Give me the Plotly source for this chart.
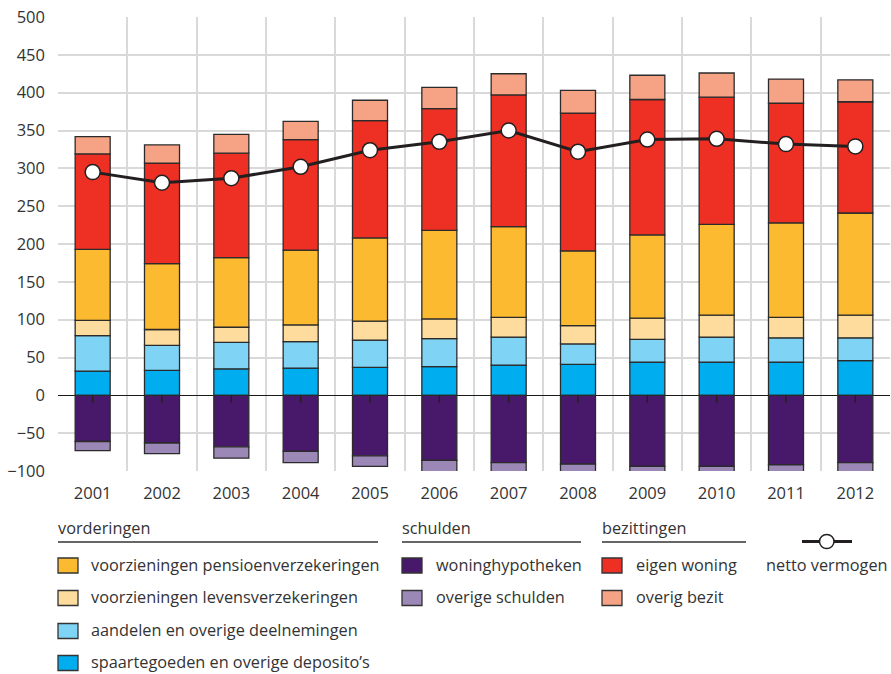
import plotly.graph_objects as go

years = [2001, 2002, 2003, 2004, 2005, 2006, 2007, 2008, 2009, 2010, 2011, 2012]

spaartegoeden = [32, 33, 35, 36, 37, 38, 40, 41, 44, 44, 44, 46]
aandelen = [47, 33, 35, 35, 36, 37, 37, 27, 30, 33, 32, 30]
levensverz = [20, 21, 20, 22, 25, 26, 26, 24, 28, 29, 27, 30]
pensioenverz = [94, 87, 92, 99, 110, 117, 120, 99, 110, 120, 125, 135]
eigen_woning = [126, 133, 138, 146, 155, 161, 174, 182, 179, 168, 158, 147]
overig_bezit = [23, 24, 25, 24, 27, 28, 28, 30, 32, 32, 32, 29]
woninghypotheken = [-61, -63, -68, -74, -80, -86, -89, -91, -94, -94, -92, -89]
overige_schulden = [-12, -14, -15, -15, -14, -15, -12, -10, -7, -7, -9, -12]
netto_vermogen = [295, 281, 287, 302, 324, 335, 350, 322, 338, 339, 332, 329]

C = {
    "spaar": "#00AEEF",
    "aandelen": "#7FD3F5",
    "levens": "#FDDC9E",
    "pensioen": "#FBBA2F",
    "eigen": "#EE3024",
    "overig": "#F5A384",
    "hyp": "#48186A",
    "schuld": "#9C88B6",
}

series = [
    ("spaartegoeden en overige deposito’s", spaartegoeden, C["spaar"]),
    ("aandelen en overige deelnemingen", aandelen, C["aandelen"]),
    ("voorzieningen levensverzekeringen", levensverz, C["levens"]),
    ("voorzieningen pensioenverzekeringen", pensioenverz, C["pensioen"]),
    ("eigen woning", eigen_woning, C["eigen"]),
    ("overig bezit", overig_bezit, C["overig"]),
    ("woninghypotheken", woninghypotheken, C["hyp"]),
    ("overige schulden", overige_schulden, C["schuld"]),
]

FONT = "Open Sans"
TXT = "#333333"
OUTLINE = "#2b2b2b"
LSIZE = 16.3
TSIZE = 16.5

fig = go.Figure()
for name, vals, col in series:
    fig.add_trace(go.Bar(
        x=years, y=vals, name=name, width=0.505,
        marker=dict(color=col, line=dict(color=OUTLINE, width=1.3)),
        showlegend=False,
    ))

fig.add_trace(go.Scatter(
    x=years, y=netto_vermogen, mode="lines+markers", name="netto vermogen",
    line=dict(color="#231f20", width=3),
    marker=dict(size=15, color="white", line=dict(color="#231f20", width=1.5)),
    showlegend=False,
))

shapes = []
# small ticks on the zero line at each category
for yr in years:
    shapes.append(dict(type="line", xref="x", yref="y", x0=yr, x1=yr, y0=0, y1=-10,
                       line=dict(color="#231f20", width=1.5), layer="above"))

annotations = []

W, H = 891, 674
ML, MR, MT, MB = 58, 1, 17, 203
PW, PH = W - ML - MR, H - MT - MB

def px_x(x):
    return (x - ML) / PW

def px_y(y):
    return (H - MB - y) / PH

def header(x0, x1, text):
    annotations.append(dict(xref="paper", yref="paper", x=px_x(x0 - 2), y=px_y(528), text=text,
                            showarrow=False, xanchor="left", yanchor="middle",
                            font=dict(family=FONT, size=LSIZE, color=TXT)))
    shapes.append(dict(type="line", xref="paper", yref="paper", x0=px_x(x0), x1=px_x(x1),
                       y0=px_y(542), y1=px_y(542), line=dict(color="#333333", width=1.5)))

def item(x, yc, color, text, tx):
    shapes.append(dict(type="rect", xref="paper", yref="paper",
                       x0=px_x(x), x1=px_x(x + 20), y0=px_y(yc - 7.5), y1=px_y(yc + 7.5),
                       fillcolor=color, line=dict(color="#333333", width=1.3)))
    annotations.append(dict(xref="paper", yref="paper", x=px_x(tx - 2), y=px_y(yc - 1), text=text,
                            showarrow=False, xanchor="left", yanchor="middle",
                            font=dict(family=FONT, size=LSIZE, color=TXT)))

rows = [565.5, 598, 631, 663]
header(58, 378, "vorderingen")
item(58, rows[0], C["pensioen"], "voorzieningen pensioenverzekeringen", 91)
item(58, rows[1], C["levens"], "voorzieningen levensverzekeringen", 91)
item(58, rows[2], C["aandelen"], "aandelen en overige deelnemingen", 91)
item(58, rows[3], C["spaar"], "spaartegoeden en overige deposito’s", 91)

header(402, 581, "schulden")
item(402, rows[0], C["hyp"], "woninghypotheken", 436)
item(402, rows[1], C["schuld"], "overige schulden", 436)

header(602, 746, "bezittingen")
item(602, rows[0], C["eigen"], "eigen woning", 636)
item(602, rows[1], C["overig"], "overig bezit", 636)

shapes.append(dict(type="line", xref="paper", yref="paper", x0=px_x(802), x1=px_x(852),
                   y0=px_y(541.5), y1=px_y(541.5), line=dict(color="#231f20", width=3)))
shapes.append(dict(type="circle", xref="paper", yref="paper", x0=px_x(819.5), x1=px_x(834),
                   y0=px_y(534.5), y1=px_y(548.5), fillcolor="white",
                   line=dict(color="#231f20", width=1.5)))
annotations.append(dict(xref="paper", yref="paper", x=px_x(827), y=px_y(564.5), text="netto vermogen",
                        showarrow=False, xanchor="center", yanchor="middle",
                        font=dict(family=FONT, size=LSIZE, color=TXT)))

fig.update_layout(
    width=W, height=H,
    margin=dict(l=ML, r=MR, t=MT, b=MB, pad=0),
    barmode="relative",
    plot_bgcolor="white", paper_bgcolor="white",
    font=dict(family=FONT, size=LSIZE, color=TXT),
    shapes=shapes, annotations=annotations,
    showlegend=False,
)
fig.update_xaxes(
    range=[years[0] - 0.5, years[-1] + 0.5],
    tickmode="array", tickvals=years, ticktext=[str(y) for y in years],
    showgrid=False, zeroline=False, showline=False, ticks="",
    ticklabelstandoff=10,
    tickfont=dict(family=FONT, size=TSIZE, color=TXT),
    minor=dict(tickmode="array", tickvals=[y - 0.5 for y in years] + [years[-1] + 0.5],
               showgrid=True, gridcolor="#d9d9d9", gridwidth=1.5, ticks=""),
)
fig.update_yaxes(
    range=[-100, 500], tickmode="linear", tick0=0, dtick=50,
    showgrid=True, gridcolor="#d9d9d9", gridwidth=1.5,
    zeroline=True, zerolinecolor="#1a1a1a", zerolinewidth=1.2,
    showline=False, ticks="", ticklabelstandoff=12,
    tickfont=dict(family=FONT, size=TSIZE, color=TXT),
)

fig.write_html("out.html", config={"displayModeBar": False},
               post_script="document.body.style.margin='0';document.body.style.padding='0';")
